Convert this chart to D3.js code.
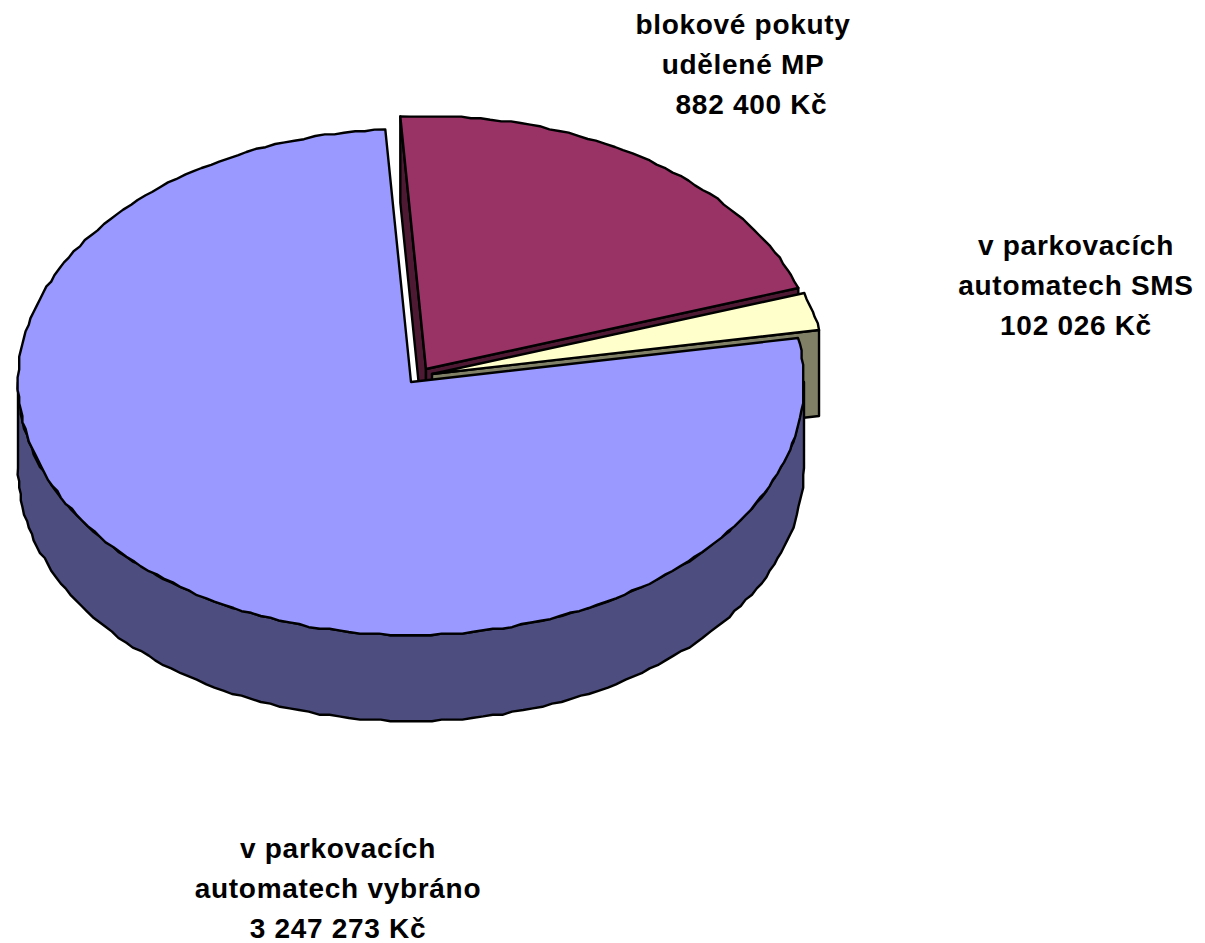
<!DOCTYPE html>
<html>
<head>
<meta charset="utf-8">
<script src="https://cdn.jsdelivr.net/npm/d3@7"></script>
<style>
  html, body { margin: 0; padding: 0; background: #fff; }
  svg { display: block; }
  text { font-family: "Liberation Sans", Arial, sans-serif; font-weight: bold; font-size: 28px; letter-spacing: 0.7px; fill: #000; }
</style>
</head>
<body>
<svg id="chart" width="1205" height="943"></svg>
<script>
// values from the chart, in Kc
const categories = ['v parkovacích automatech vybráno', 'blokové pokuty udělené MP', 'v parkovacích automatech SMS'];
const values = [3247273, 882400, 102026];
const labelLines = [
    ['v parkovacích', 'automatech vybráno', '3 247 273 Kč'],
    ['blokové pokuty', 'udělené MP', '\u00a0\u00a0882 400 Kč'],
    ['v parkovacích', 'automatech SMS', '102 026 Kč']
];

const topColors = ['#9999ff', '#993366', '#ffffcc'];
const sideColors = ['#4d4d80', '#4d1933', '#808066'];
const labelPos = [[338, 858], [743, 34], [1076, 255]];
const explode = [[0, 0], [15, -13], [21, -8]];

const cx = 411, cy = 382, rx = 393, ry = 253, depth = 86, lineGap = 40;
const TAU = Math.PI * 2;
const startAngle = 80 * Math.PI / 180;
const grid = 1.6; // the original outline is slightly stepped, snap the rim a little

const svg = d3.select('#chart');

const slices = d3.pie().sort(null)
    .startAngle(startAngle)
    .endAngle(startAngle + TAU)(values);

// unit circle -> screen, y is squashed for the tilt
const xScale = d3.scaleLinear().domain([-1, 1]).range([cx - rx, cx + rx]);
const yScale = d3.scaleLinear().domain([-1, 1]).range([cy - ry, cy + ry]);
const line = d3.line();
const snap = v => Math.round(v / grid) * grid;

function rimPoints(a0, a1, dx, dy) {
    const steps = Math.max(1, Math.ceil(Math.abs(a1 - a0) / (1.5 * Math.PI / 180)));
    return d3.range(steps + 1).map(i => {
        const a = a0 + (a1 - a0) * i / steps;
        const x = xScale(Math.sin(a));
        const y = yScale(-Math.cos(a));
        return [(i === 0 || i === steps ? x : snap(x)) + dx, (i === 0 || i === steps ? y : snap(y)) + dy];
    });
}

function faces(d, i) {
    const [dx, dy] = explode[i];
    const apex = [cx + dx, cy + dy];
    const g = svg.append('g').attr('class', 'slice');
    const side = pts => g.append('path')
        .attr('d', line(pts) + 'Z')
        .attr('fill', sideColors[i])
        .attr('stroke', '#000')
        .attr('stroke-width', 2.4)
        .attr('stroke-linejoin', 'round');
    const drop = p => [p[0], p[1] + depth];

    // cut faces, only the ones turned toward the viewer
    const cut = a => {
        const p = rimPoints(a, a, dx, dy)[0];
        side([apex, p, drop(p), drop(apex)]);
    };
    if (Math.cos(d.startAngle - Math.PI / 2) < 0) cut(d.startAngle);
    if (Math.cos(d.endAngle + Math.PI / 2) < 0) cut(d.endAngle);

    // front wall of the rim
    const a0 = Math.max(d.startAngle, Math.PI / 2);
    const a1 = Math.min(d.endAngle, Math.PI * 1.5);
    if (a1 > a0) {
        const rim = rimPoints(a0, a1, dx, dy);
        side(rim.concat(rim.map(drop).reverse()));
    }

    g.append('path')
        .attr('d', line([apex].concat(rimPoints(d.startAngle, d.endAngle, dx, dy))) + 'Z')
        .attr('fill', topColors[i])
        .attr('stroke', '#000')
        .attr('stroke-width', 2.4)
        .attr('stroke-linejoin', 'round')
        .append('title').text(categories[i]);
}

// back slices first, the big one sits on top of them
[1, 2, 0].forEach(i => faces(slices[i], i));

labelLines.forEach((lines, i) => {
    const t = svg.append('text')
        .attr('text-anchor', 'middle')
        .attr('xml:space', 'preserve');
    lines.forEach((s, j) => {
        t.append('tspan')
            .attr('x', labelPos[i][0])
            .attr('y', labelPos[i][1] + j * lineGap)
            .text(s);
    });
});
</script>
</body>
</html>
